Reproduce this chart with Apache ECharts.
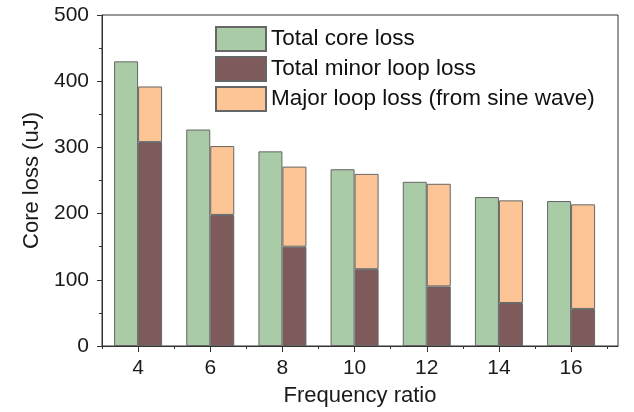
<!DOCTYPE html>
<html>
<head>
<meta charset="utf-8">
<script src="https://cdn.jsdelivr.net/npm/echarts@6/dist/echarts.min.js"></script>
<style>
  html, body { margin: 0; padding: 0; background: #fff; }
  #chart { width: 634px; height: 412px; }
</style>
</head>
<body>
<div id="chart"></div>
<script>
// Frequency ratios on the x axis
const ratios = [4, 6, 8, 10, 12, 14, 16];
// Total core loss (uJ)
const totalCoreLoss = [430, 327, 294, 267, 248, 225, 219];
// Total minor loop loss (uJ), bottom of the stacked bar
const minorLoopLoss = [308, 198, 150, 116, 90, 65, 56];
// Major loop loss from sine wave (uJ), stacked on top of the minor loop loss
const majorLoopLoss = [84, 104, 121, 144, 155, 155, 158];
// Tick values
const yTicks = [0, 100, 200, 300, 400, 500];
const xMinorTicks = [3, 5, 7, 9, 11, 13, 15, 17];

const FONT = "'Liberation Sans', Arial, sans-serif";
const TXT = '#1a1a1a';
const EDGE = '#666666';

// rows are [loss, ratio] so the stacked dimension is the loss value
const rows = vals => ratios.map((r, i) => [vals[i], r]);
const enc = { x: 1, y: 0 };

const chart = echarts.init(document.getElementById('chart'), null, { renderer: 'canvas' });

chart.setOption({
  animation: false,
  backgroundColor: '#ffffff',
  textStyle: { fontFamily: FONT },
  grid: {
    left: 102, right: 16, top: 15, bottom: 64,
    show: true, borderColor: '#333', borderWidth: 1, backgroundColor: 'transparent'
  },
  legend: {
    orient: 'vertical',
    left: 215, top: 26, padding: 0,
    icon: 'rect',
    itemWidth: 50, itemHeight: 24, itemGap: 4,
    textStyle: { fontSize: 22.5, lineHeight: 24, color: '#111', fontFamily: FONT },
    data: ['Total core loss', 'Total minor loop loss', 'Major loop loss (from sine wave)']
  },
  xAxis: [
    {
      type: 'value', min: 3, max: 17.3,
      name: 'Frequency ratio', nameLocation: 'middle', nameGap: 39,
      nameTextStyle: { fontSize: 22, color: TXT, fontFamily: FONT },
      axisLine: { show: true, lineStyle: { color: '#333', width: 1 } },
      axisTick: { show: true, length: 6, customValues: ratios, lineStyle: { color: '#333' } },
      axisLabel: { customValues: ratios, fontSize: 21, color: TXT, margin: 12, fontFamily: FONT },
      splitLine: { show: false }
    },
    {
      type: 'value', min: 3, max: 17.3, position: 'bottom',
      axisLine: { show: false },
      axisTick: { show: true, length: 3, customValues: xMinorTicks, lineStyle: { color: '#333' } },
      axisLabel: { show: false },
      splitLine: { show: false }
    }
  ],
  yAxis: {
    type: 'value', min: 0, max: 500, interval: 100,
    name: 'Core loss (uJ)', nameLocation: 'middle', nameGap: 58,
    nameTextStyle: { fontSize: 22, color: TXT, fontFamily: FONT },
    axisLine: { show: true, lineStyle: { color: '#333', width: 1 } },
    axisTick: { show: true, length: 5, lineStyle: { color: '#333' } },
    minorTick: { show: true, splitNumber: 2, length: 3, lineStyle: { color: '#333' } },
    axisLabel: { customValues: yTicks, fontSize: 21, color: TXT, margin: 13, fontFamily: FONT },
    splitLine: { show: false },
    minorSplitLine: { show: false }
  },
  series: [
    {
      name: 'Total core loss', type: 'bar', xAxisIndex: 0, encode: enc,
      barWidth: 24, barGap: '0%',
      itemStyle: { color: '#a9cba6', borderColor: EDGE, borderWidth: 1 },
      data: rows(totalCoreLoss)
    },
    {
      name: 'Total minor loop loss', type: 'bar', xAxisIndex: 0, stack: 'loops', encode: enc,
      barWidth: 24, barGap: '0%',
      itemStyle: { color: '#7e5a5b', borderColor: EDGE, borderWidth: 1 },
      data: rows(minorLoopLoss)
    },
    {
      name: 'Major loop loss (from sine wave)', type: 'bar', xAxisIndex: 0, stack: 'loops', encode: enc,
      barWidth: 24, barGap: '0%',
      itemStyle: { color: '#fdc596', borderColor: EDGE, borderWidth: 1 },
      data: rows(majorLoopLoss)
    }
  ]
});
</script>
</body>
</html>
